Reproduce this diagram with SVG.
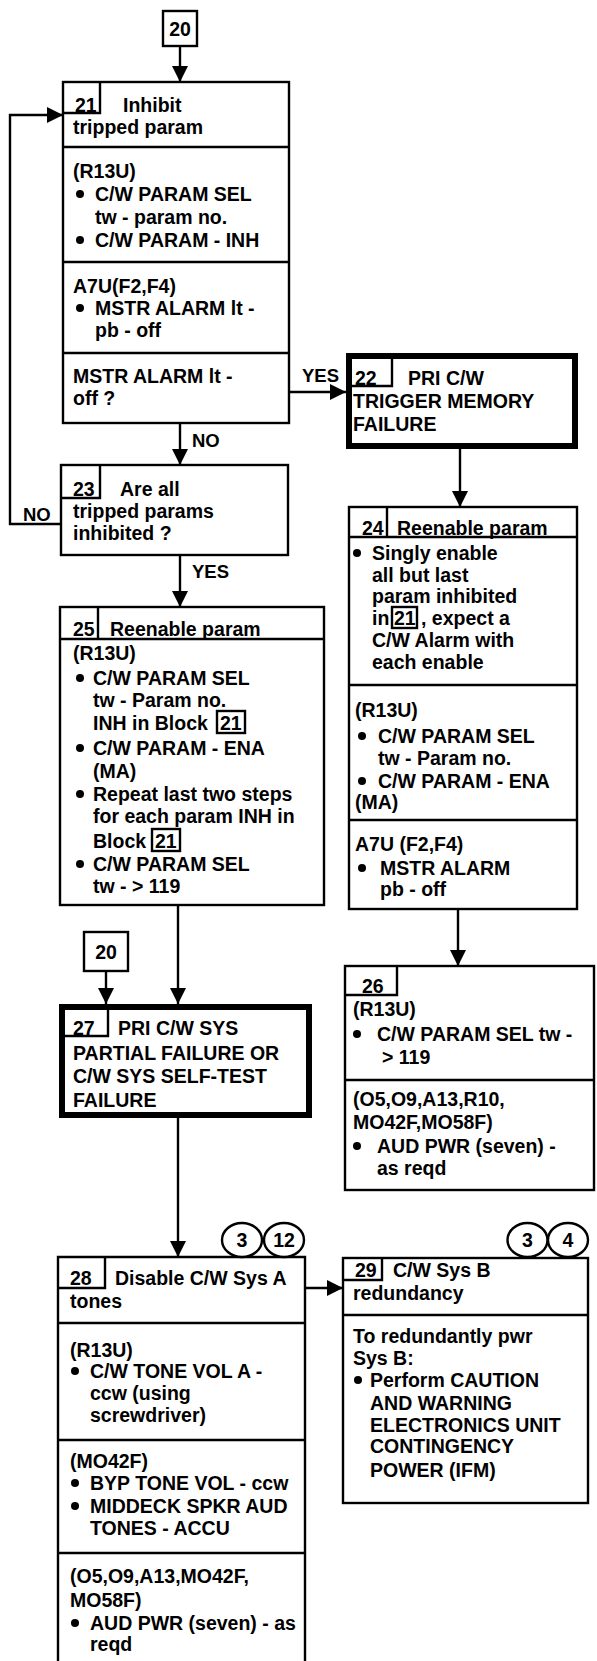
<svg xmlns="http://www.w3.org/2000/svg" width="597" height="1661" viewBox="0 0 597 1661">
<defs>
<style>
text{font-family:"Liberation Sans",Arial,sans-serif;font-weight:bold;font-size:19.5px;fill:#000}
.box{fill:#fff;stroke:#000;stroke-width:2.4}
.thick{fill:#fff;stroke:#000;stroke-width:6}
.ln{fill:none;stroke:#000;stroke-width:2.4}
.conn{fill:none;stroke:#000;stroke-width:2.4;marker-end:url(#ah)}
.b{fill:#000}
.lbl{font-size:18.5px}
</style>
<marker id="ah" viewBox="0 0 16 16" refX="16" refY="8" markerWidth="16" markerHeight="16" markerUnits="userSpaceOnUse" orient="auto">
<path d="M0,0 L16,8 L0,16 Z" fill="#000"/>
</marker>
</defs>
<rect width="597" height="1661" fill="#fff"/>

<g id="connectors">
<path class="conn" d="M180,46 V82"/>
<path class="conn" d="M289,392 H346"/>
<path class="conn" d="M180,423 V465"/>
<path class="conn" d="M61,524 H10 V115 H63"/>
<path class="conn" d="M180,555 V607"/>
<path class="conn" d="M460,449 V507"/>
<path class="conn" d="M458,909 V966"/>
<path class="conn" d="M178,905 V1004"/>
<path class="conn" d="M106,971 V1004"/>
<path class="conn" d="M178,1118 V1257"/>
<path class="conn" d="M305,1288 H343"/>
<text class="lbl" x="302" y="382">YES</text>
<text class="lbl" x="192" y="447">NO</text>
<text class="lbl" x="23" y="521">NO</text>
<text class="lbl" x="192" y="578">YES</text>
</g>

<g id="ref20a">
<rect class="box" x="163" y="11" width="34" height="35"/>
<text x="180" y="36" text-anchor="middle">20</text>
</g>

<g id="ref20b">
<rect class="box" x="84" y="932" width="44" height="39"/>
<text x="106" y="959" text-anchor="middle">20</text>
</g>

<g id="n21">
<rect class="box" x="63" y="82" width="226" height="341"/>
<path class="ln" d="M100,82 V113 H63 M63,147 H289 M63,262 H289 M63,353 H289"/>
<text x="75" y="112">21</text>
<text x="123" y="112">Inhibit</text>
<text x="73" y="134">tripped param</text>
<text x="73" y="178">(R13U)</text>
<circle class="b" cx="80" cy="194" r="4"/>
<text x="95" y="201">C/W PARAM SEL</text>
<text x="95" y="224">tw - param no.</text>
<circle class="b" cx="80" cy="240" r="4"/>
<text x="95" y="247">C/W PARAM - INH</text>
<text x="73" y="293">A7U(F2,F4)</text>
<circle class="b" cx="80" cy="308" r="4"/>
<text x="95" y="315">MSTR ALARM lt -</text>
<text x="95" y="337">pb - off</text>
<text x="73" y="383">MSTR ALARM lt -</text>
<text x="73" y="405">off ?</text>
</g>

<g id="n22">
<rect class="thick" x="349" y="356" width="226" height="90"/>
<path class="ln" d="M392,359 V386 H352"/>
<text x="355" y="385">22</text>
<text x="408" y="385">PRI C/W</text>
<text x="353" y="408">TRIGGER MEMORY</text>
<text x="353" y="431">FAILURE</text>
</g>

<g id="n23">
<rect class="box" x="61" y="465" width="227" height="90"/>
<path class="ln" d="M100,465 V498 H61"/>
<text x="73" y="496">23</text>
<text x="120" y="496">Are all</text>
<text x="73" y="518">tripped params</text>
<text x="73" y="540">inhibited ?</text>
</g>

<g id="n24">
<rect class="box" x="349" y="507" width="228" height="402"/>
<path class="ln" d="M387,507 V537 M349,537 H577 M349,685 H577 M349,820 H577"/>
<text x="362" y="535">24</text>
<text x="397" y="535">Reenable param</text>
<circle class="b" cx="357" cy="553" r="4"/>
<text x="372" y="560">Singly enable</text>
<text x="372" y="582">all but last</text>
<text x="372" y="603">param inhibited</text>
<text x="372" y="625">in</text>
<rect class="box" x="392" y="607" width="25" height="21" fill="none"/>
<text x="394" y="625">21</text>
<text x="421" y="625">, expect a</text>
<text x="372" y="647">C/W Alarm with</text>
<text x="372" y="669">each enable</text>
<text x="355" y="717">(R13U)</text>
<circle class="b" cx="362" cy="736" r="4"/>
<text x="378" y="743">C/W PARAM SEL</text>
<text x="378" y="765">tw - Param no.</text>
<circle class="b" cx="362" cy="781" r="4"/>
<text x="378" y="788">C/W PARAM - ENA</text>
<text x="355" y="809">(MA)</text>
<text x="355" y="851">A7U (F2,F4)</text>
<circle class="b" cx="362" cy="868" r="4"/>
<text x="380" y="875">MSTR ALARM</text>
<text x="380" y="896">pb - off</text>
</g>

<g id="n25">
<rect class="box" x="60" y="607" width="264" height="298"/>
<path class="ln" d="M98,607 V639 M60,639 H324"/>
<text x="73" y="636">25</text>
<text x="110" y="636">Reenable param</text>
<text x="73" y="660">(R13U)</text>
<circle class="b" cx="80" cy="678" r="4"/>
<text x="93" y="685">C/W PARAM SEL</text>
<text x="93" y="707">tw - Param no.</text>
<text x="93" y="730">INH in Block</text>
<rect class="box" x="217" y="711" width="28" height="22" fill="none"/>
<text x="220" y="730">21</text>
<circle class="b" cx="80" cy="748" r="4"/>
<text x="93" y="755">C/W PARAM - ENA</text>
<text x="93" y="778">(MA)</text>
<circle class="b" cx="80" cy="794" r="4"/>
<text x="93" y="801">Repeat last two steps</text>
<text x="93" y="823">for each param INH in</text>
<text x="93" y="848">Block</text>
<rect class="box" x="152" y="829" width="28" height="22" fill="none"/>
<text x="155" y="848">21</text>
<circle class="b" cx="80" cy="864" r="4"/>
<text x="93" y="871">C/W PARAM SEL</text>
<text x="93" y="893">tw - &gt; 119</text>
</g>

<g id="n26">
<rect class="box" x="345" y="966" width="249" height="224"/>
<path class="ln" d="M397,966 V995 H345 M345,1080 H594"/>
<text x="362" y="993">26</text>
<text x="353" y="1016">(R13U)</text>
<circle class="b" cx="357" cy="1034" r="4"/>
<text x="377" y="1041">C/W PARAM SEL tw -</text>
<text x="382" y="1064">&gt; 119</text>
<text x="353" y="1106">(O5,O9,A13,R10,</text>
<text x="353" y="1129">MO42F,MO58F)</text>
<circle class="b" cx="357" cy="1146" r="4"/>
<text x="377" y="1153">AUD PWR (seven) -</text>
<text x="377" y="1175">as reqd</text>
</g>

<g id="n27">
<rect class="thick" x="62" y="1007" width="247" height="108"/>
<path class="ln" d="M108,1010 V1036 H65"/>
<text x="73" y="1035">27</text>
<text x="118" y="1035">PRI C/W SYS</text>
<text x="73" y="1060">PARTIAL FAILURE OR</text>
<text x="73" y="1083">C/W SYS SELF-TEST</text>
<text x="73" y="1107">FAILURE</text>
</g>

<g id="n28">
<path class="box" d="M58,1662 V1257 H305 V1662"/>
<path class="ln" d="M105,1257 V1288 H58 M58,1323 H305 M58,1440 H305 M58,1553 H305"/>
<text x="70" y="1285">28</text>
<text x="115" y="1285">Disable C/W Sys A</text>
<text x="70" y="1308">tones</text>
<text x="70" y="1357">(R13U)</text>
<circle class="b" cx="75" cy="1371" r="4"/>
<text x="90" y="1378">C/W TONE VOL  A -</text>
<text x="90" y="1400">ccw (using</text>
<text x="90" y="1422">screwdriver)</text>
<text x="70" y="1468">(MO42F)</text>
<circle class="b" cx="75" cy="1483" r="4"/>
<text x="90" y="1490">BYP TONE VOL - ccw</text>
<circle class="b" cx="75" cy="1506" r="4"/>
<text x="90" y="1513">MIDDECK SPKR AUD</text>
<text x="90" y="1535">TONES - ACCU</text>
<text x="70" y="1583">(O5,O9,A13,MO42F,</text>
<text x="70" y="1607">MO58F)</text>
<circle class="b" cx="75" cy="1623" r="4"/>
<text x="90" y="1630">AUD PWR (seven) - as</text>
<text x="90" y="1651">reqd</text>
</g>

<g id="c28">
<ellipse class="box" cx="242" cy="1240" rx="20" ry="17"/>
<text x="242" y="1247" text-anchor="middle">3</text>
<ellipse class="box" cx="284" cy="1240" rx="20" ry="17"/>
<text x="284" y="1247" text-anchor="middle">12</text>
</g>

<g id="n29">
<rect class="box" x="343" y="1258" width="245" height="245"/>
<path class="ln" d="M382,1258 V1280 H343 M343,1315 H588"/>
<text x="355" y="1277">29</text>
<text x="393" y="1277">C/W Sys B</text>
<text x="353" y="1300">redundancy</text>
<text x="353" y="1343">To redundantly pwr</text>
<text x="353" y="1365">Sys B:</text>
<circle class="b" cx="358" cy="1380" r="4"/>
<text x="370" y="1387">Perform CAUTION</text>
<text x="370" y="1410">AND WARNING</text>
<text x="370" y="1432">ELECTRONICS UNIT</text>
<text x="370" y="1453">CONTINGENCY</text>
<text x="370" y="1477">POWER (IFM)</text>
</g>

<g id="c29">
<ellipse class="box" cx="527.5" cy="1240" rx="20" ry="17"/>
<text x="527.5" y="1247" text-anchor="middle">3</text>
<ellipse class="box" cx="568" cy="1240" rx="20" ry="17"/>
<text x="568" y="1247" text-anchor="middle">4</text>
</g>
</svg>
